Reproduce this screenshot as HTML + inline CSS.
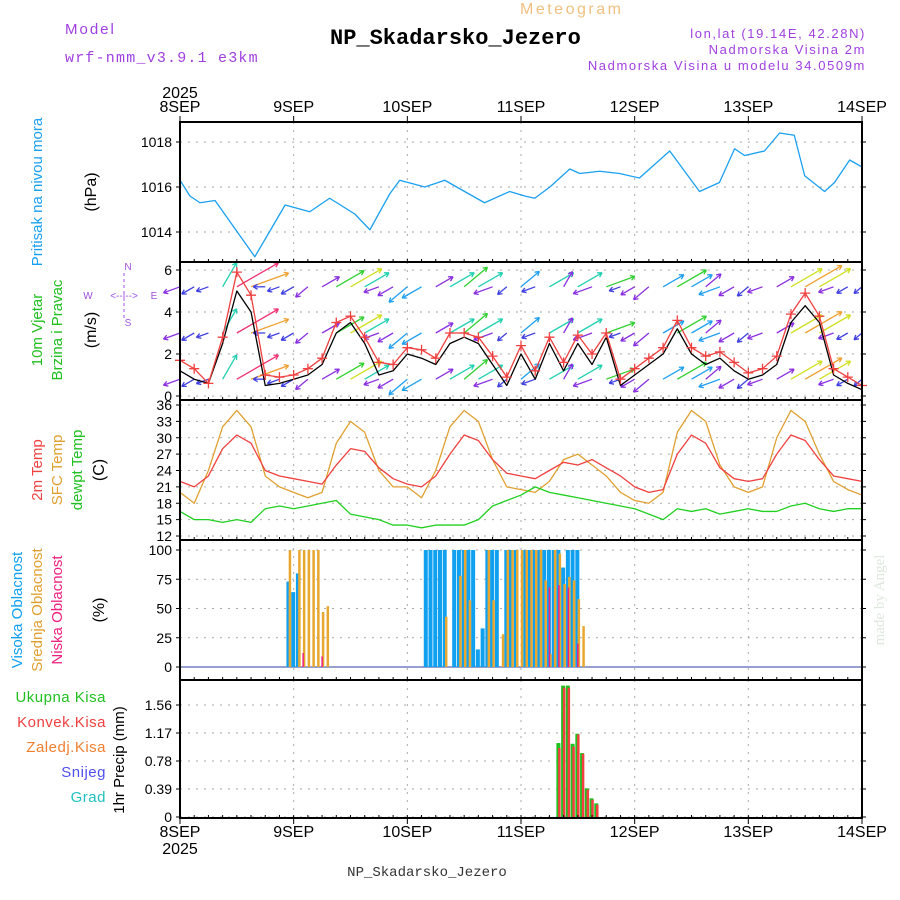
<!DOCTYPE html>
<html><head><meta charset="utf-8"><style>
body{margin:0;background:#fff}
svg{display:block;font-family:"Liberation Sans",sans-serif}
</style></head><body>
<svg id="c" width="900" height="900" viewBox="0 0 900 900" xmlns="http://www.w3.org/2000/svg">
<text x="65" y="34" fill="#a040e0" font-size="15" letter-spacing="2">Model</text>
<text x="65" y="62" fill="#a040e0" font-size="15" letter-spacing="1.2" font-family="Liberation Mono, monospace">wrf-nmm_v3.9.1 e3km</text>
<text x="520" y="14" fill="#f0c080" font-size="16" letter-spacing="2.5">Meteogram</text>
<text x="330" y="44" fill="#000" font-size="22" font-weight="bold" font-family="Liberation Mono, monospace">NP_Skadarsko_Jezero</text>
<text x="866" y="38" fill="#a040e0" font-size="13" text-anchor="end" letter-spacing="1.6">lon,lat (19.14E, 42.28N)</text>
<text x="866" y="54" fill="#a040e0" font-size="13" text-anchor="end" letter-spacing="1.6">Nadmorska Visina 2m</text>
<text x="866" y="70" fill="#a040e0" font-size="13" text-anchor="end" letter-spacing="1.6">Nadmorska Visina u modelu 34.0509m</text>
<text x="427" y="876" fill="#333" font-size="14" text-anchor="middle" font-family="Liberation Mono, monospace">NP_Skadarsko_Jezero</text>
<text transform="translate(884,600) rotate(-90)" fill="#dde8dd" font-size="15" text-anchor="middle" font-family="Liberation Serif, serif">made by Angel</text>
<g id="g"></g>
</svg>
<script>
// ---------- data ----------
const dayLabels=["8SEP","9SEP","10SEP","11SEP","12SEP","13SEP","14SEP"];
const presHours=[0,2.1,4.2,7.4,15.8,22.2,27.4,31.6,36.9,40.1,44.3,46.4,51.7,55.9,60.1,64.3,69.6,72.8,74.9,78.1,82.3,84.4,88.6,92.8,97.0,103.4,105.5,109.7,113.9,117.1,119.2,123.4,126.6,129.7,131.9,136.1,138.2,141.4,143.9];
const presVals=[1016.3,1015.6,1015.3,1015.4,1012.9,1015.2,1014.9,1015.5,1014.8,1014.1,1015.7,1016.3,1016.0,1016.3,1015.8,1015.3,1015.8,1015.6,1015.5,1016.0,1016.8,1016.6,1016.7,1016.6,1016.4,1017.6,1017.0,1015.8,1016.2,1017.7,1017.4,1017.6,1018.4,1018.3,1016.5,1015.8,1016.2,1017.2,1016.9];
const tempHours3=[0,3,6,9,12,15,18,21,24,27,30,33,36,39,42,45,48,51,54,57,60,63,66,69,72,75,78,81,84,87,90,93,96,99,102,105,108,111,114,117,120,123,126,129,132,135,138,141,144];
const t2m=[22,21,23,28,30.5,29,24,23,22.5,22,21.5,25,28,27.5,24.5,22.5,21.5,21,23,27,30.5,29.5,26,23.5,23,22.5,24,25.5,25,26,24.5,23,21,20,20.5,27,30.5,29,24.5,22.5,22,22.5,27,30.5,29.5,26,23,22.5,22];
const tsfc=[20,18,24,32,35,32,23,21,20,19,20,29,33,31,24,21,21,19,24,32,35,33,26,21,20.5,20,22,26,27,25,23,20,18.5,18,20,31,35,33,25,21,20,21,30,35,33,27,22,20.5,19.5];
const tdew=[16.5,15,15,14.5,15,14.5,17,17.5,17,17.5,18,18.5,16,15.5,15,14,14,13.5,14,14,14,15,17.5,18.5,19.5,21,20,19.5,19,18.5,18,17.5,17,16,15,17,16.5,17,16,16.5,17,16.5,16.5,17.5,18,17,16.5,17,17];
const windSpd=[1.2,0.8,0.6,2.5,5.0,4.0,0.5,0.6,0.8,1.0,1.5,3.0,3.5,2.5,1.0,1.2,2.0,1.8,1.5,2.5,2.8,2.5,1.5,0.5,2.0,0.8,2.5,1.2,2.5,1.5,2.8,0.5,1.0,1.5,2.0,3.2,2.0,1.5,1.8,1.2,0.8,1.0,1.5,3.5,4.3,3.5,1.0,0.6,0.3];
const windGust=[1.7,1.3,0.6,2.8,5.9,4.8,1.0,0.9,1.0,1.3,1.8,3.5,3.8,2.8,1.6,1.5,2.3,2.2,1.8,3.0,3.0,2.8,1.9,0.9,2.4,1.2,2.8,1.6,2.9,2.0,3.0,0.8,1.3,1.8,2.3,3.6,2.3,1.9,2.1,1.6,1.1,1.3,1.9,3.9,4.9,3.8,1.3,0.9,0.5];
const windDir=[200,210,200,60,30,20,180,200,210,220,30,30,30,30,200,210,220,210,30,30,40,30,200,220,40,200,30,60,30,200,20,200,210,220,30,30,30,40,200,210,220,200,30,30,30,30,200,210,220];
const highCloudHours=[23,24,25,52,53,54,55,56,58,59,60,61,62,63,64,65,66,67,69,70,71,73,74,75,76,77,78,79,80,81,82,83,84];
const highCloudVals=[73,64,80,100,100,100,100,100,100,100,100,100,100,15,33,100,100,100,100,100,100,100,100,100,100,100,100,100,100,85,100,100,100];
const midCloudHours=[23,25,26,27,28,29,30,31,56,59,60,61,65,66,68,69,70,71,72,73,74,75,76,77,78,79,80,81,82,83,84,85];
const midCloudVals=[100,100,100,100,100,100,47,52,43,78,100,57,100,57,28,100,100,100,100,100,100,100,100,74,11,100,97,71,77,74,58,35];
const lowCloudHours=[26,30,78,80,82,84];
const lowCloudVals=[12,9,68,70,68,20];
const precipHours=[80,81,82,83,84,85,86,87,88];
const precipTotal=[1.03,1.83,1.83,1.02,1.16,0.89,0.40,0.26,0.19];
const precipConv=[0.96,1.80,1.80,0.98,1.15,0.88,0.38,0.24,0.17];

// ---------- axes ----------
const X0=180,X1=862,HRS=144;
const xs=h=>X0+(X1-X0)*h/HRS;
const lin=(d0,d1,r0,r1)=>v=>r0+(v-d0)*(r1-r0)/(d1-d0);
const yP=lin(1014,1018,232,142), yW=lin(0,6,396,270), yT=lin(12,36,536,405), yC=lin(0,100,667,550), yR=lin(0,1.56,817,705);
const NS='http://www.w3.org/2000/svg', G=document.getElementById('g');
function el(t,a,txt){const e=document.createElementNS(NS,t);for(const k in a)e.setAttribute(k,a[k]);if(txt!=null)e.textContent=txt;G.appendChild(e);return e;}
const panels=[[122,262],[262,400],[400,540],[540,680],[680,818]];
panels.forEach((p,i)=>{for(let d=1;d<6;d++){const v=el('line',{x1:xs(d*24),x2:xs(d*24),y1:p[0],y2:p[1],stroke:'#aaa','stroke-dasharray':'2,6','stroke-width':1});

}});
function hgrid(vals,f,lbls){vals.forEach((v,i)=>{const y=f(v);const l=el('line',{x1:X0,x2:X1,y1:y,y2:y,stroke:'#aaa','stroke-dasharray':'2,6'});


const t=el('text',{x:X0-8,y:y+5,'text-anchor':'end','font-size':14},lbls[i]);


el('line',{x1:X0-4,x2:X0,y1:y,y2:y,stroke:'#000'});el('line',{x1:X1,x2:X1+4,y1:y,y2:y,stroke:'#000'});});}
hgrid([1014,1016,1018],yP,['1014','1016','1018']);
hgrid([0,2,4,6],yW,['0','2','4','6']);
hgrid([12,15,18,21,24,27,30,33,36],yT,['12','15','18','21','24','27','30','33','36']);
hgrid([0,25,50,75,100],yC,['0','25','50','75','100']);
hgrid([0,0.39,0.78,1.17,1.56],yR,['0','0.39','0.78','1.17','1.56']);
function poly(hs,vs,f,color,name){const p=el('polyline',{points:hs.map((h,i)=>xs(h)+','+f(vs[i])).join(' '),fill:'none',stroke:color,'stroke-width':1.3,'stroke-linejoin':'round'});

}
poly(presHours,presVals,yP,'#1aa0f0','pressure-line');
const rows=[5.2,3.0,0.8];
function wcol(s){return s<1?'#4040e0':s<1.6?'#8a30e0':s<2.2?'#20a0f0':s<2.8?'#20d0b0':s<3.4?'#30d030':s<4?'#d0e020':s<4.6?'#f0a030':'#f03070';}
tempHours3.forEach((h,i)=>{rows.forEach(r=>{const s=windSpd[i],a=windDir[i]*Math.PI/180,L=8+s*8;const x=xs(h),y=yW(r);const x2=x+L*Math.cos(a),y2=y-L*Math.sin(a);
const c=wcol(s);const ar=el('g',{stroke:c,'stroke-width':1.3});


const l=document.createElementNS(NS,'line');l.setAttribute('x1',x);l.setAttribute('y1',y);l.setAttribute('x2',x2);l.setAttribute('y2',y2);ar.appendChild(l);
[2.6,-2.6].forEach(o=>{const hl=document.createElementNS(NS,'line');hl.setAttribute('x1',x2);hl.setAttribute('y1',y2);hl.setAttribute('x2',x2-5*Math.cos(a+o*0.2));hl.setAttribute('y2',y2+5*Math.sin(a+o*0.2));ar.appendChild(hl);});});});
poly(tempHours3,windSpd,yW,'#000','wind-speed-line');
poly(tempHours3,windGust,yW,'#f04040','wind-gust-line');
tempHours3.forEach((h,i)=>{const x=xs(h),y=yW(windGust[i]);const m=el('path',{d:`M${x-5},${y}h10M${x},${y-5}v10`,stroke:'#f04040','stroke-width':1.3});

});
poly(tempHours3,tsfc,yT,'#e0a030','sfc-temp-line');
poly(tempHours3,t2m,yT,'#f04040','2m-temp-line');
poly(tempHours3,tdew,yT,'#20d020','dewpoint-line');
function bars(hs,vs,f,color,w,off,name){hs.forEach((h,i)=>{const x=xs(h)+off,y=f(vs[i]);const r=el('rect',{x:x-w/2,y:y,width:w,height:f(0)-y,fill:color});

});}
el('line',{x1:X0,x2:X1,y1:yC(0),y2:yC(0),stroke:'#7080c0','stroke-width':1.5});
bars(highCloudHours,highCloudVals,yC,'#10a0f0',4,-0.5,'high-cloud-bar');
bars(midCloudHours,midCloudVals,yC,'#e8a830',2.5,1,'mid-cloud-bar');
bars(lowCloudHours,lowCloudVals,yC,'#f02080',1.5,0,'low-cloud-bar');
bars(precipHours,precipTotal,yR,'#20c020',4,-0.5,'total-precip-bar');
bars(precipHours,precipConv,yR,'#f04040',2.5,0.5,'convective-precip-bar');
panels.forEach(p=>{const r=el('rect',{x:X0,y:p[0],width:X1-X0,height:p[1]-p[0],fill:'none',stroke:'#000','stroke-width':2});

});
dayLabels.forEach((d,i)=>{const x=xs(i*24);[[112,'top'],[837,'bottom']].forEach(([y,n])=>{const t=el('text',{x:x,y:y,'text-anchor':'middle','font-size':16},d);

});
el('line',{x1:x,x2:x,y1:116,y2:122,stroke:'#000'});el('line',{x1:x,x2:x,y1:818,y2:824,stroke:'#000'});});
for(let h=0;h<=HRS;h+=3){const x=xs(h);panels.forEach(p=>{el('line',{x1:x,x2:x,y1:p[1]-3,y2:p[1],stroke:'#000'});});}
el('text',{x:180,y:98,'text-anchor':'middle','font-size':16},'2025');
el('text',{x:180,y:854,'text-anchor':'middle','font-size':16},'2025');
function vl(x,y,t,c,s){const e=el('text',{transform:`translate(${x},${y}) rotate(-90)`,'text-anchor':'middle',fill:c,'font-size':s||15},t);

}
vl(42,192,'Pritisak na nivou mora','#1aa0f0');vl(96,192,'(hPa)','#000',16);
vl(42,330,'10m Vjetar','#20c020');vl(62,330,'Brzina i Pravac','#20c020');vl(96,330,'(m/s)','#000',16);
vl(42,470,'2m Temp','#f04040');vl(62,470,'SFC Temp','#e0a030');vl(82,470,'dewpt Temp','#20c020');vl(104,470,'(C)','#000',16);
vl(22,610,'Visoka Oblacnost','#10a0f0');vl(42,610,'Srednja Oblacnost','#e0a030');vl(62,610,'Niska Oblacnost','#f02080');vl(104,610,'(%)','#000',16);
vl(124,760,'1hr Precip (mm)','#000',15);
[['Ukupna Kisa','#20c020',702],['Konvek.Kisa','#f04040',727],['Zaledj.Kisa','#f08030',752],['Snijeg','#5050f0',777],['Grad','#20c0c0',802]].forEach(a=>{const t=el('text',{x:106,y:a[2],'text-anchor':'end',fill:a[1],'font-size':15,'letter-spacing':0.5},a[0]);

});
const cc='#a050e0';[['N',128,270],['W',88,299],['E',154,299],['S',128,326]].forEach(a=>el('text',{x:a[1],y:a[2],fill:cc,'font-size':10,'text-anchor':'middle'},a[0]));
el('text',{x:124,y:299,fill:cc,'font-size':10,'text-anchor':'middle'},'<--|-->');
el('line',{x1:124,x2:124,y1:273,y2:318,stroke:cc,'stroke-dasharray':'3,3'});
</script>
</body></html>
